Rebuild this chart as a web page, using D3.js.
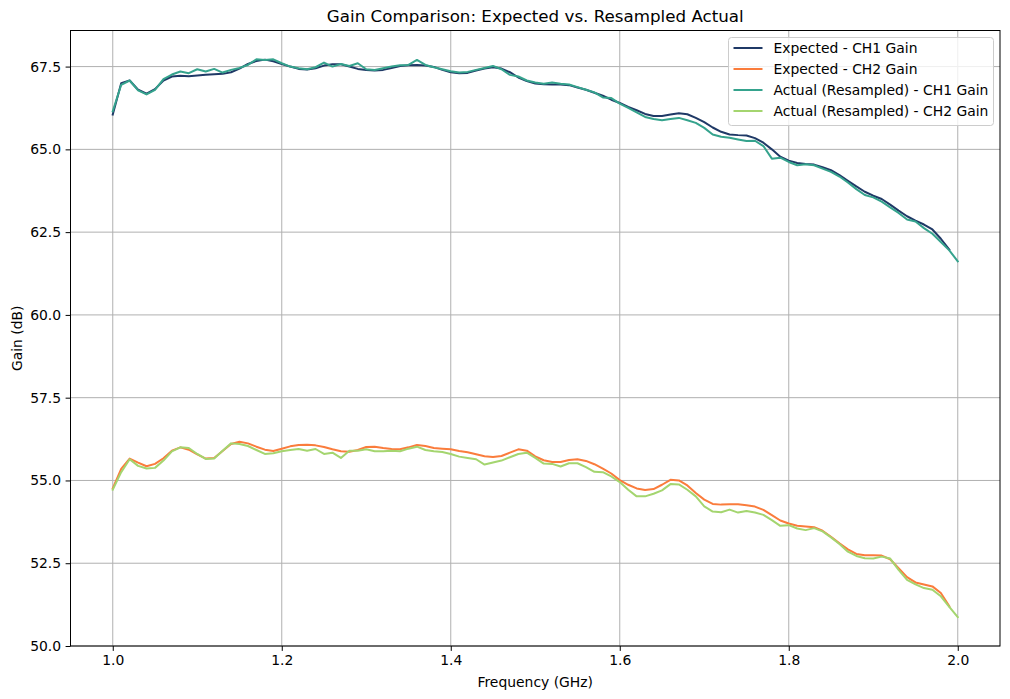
<!DOCTYPE html>
<html>
<head>
<meta charset="utf-8">
<script src="https://cdn.jsdelivr.net/npm/d3@7"></script>
<style>
  body { margin: 0; background: #fff; }
  text { font-family: "DejaVu Sans", sans-serif; fill: #000; }
</style>
</head>
<body>
<script>
// frequency points (GHz), 0.01 step
const freq = d3.range(0, 101).map(i => +(1 + i / 100).toFixed(2));

const expectedCh1 = [
  66.05, 67.00, 67.08, 66.80, 66.68, 66.82, 67.08, 67.20, 67.22, 67.21,
  67.23, 67.25, 67.27, 67.28, 67.33, 67.44, 67.58, 67.67, 67.71, 67.66,
  67.58, 67.50, 67.43, 67.41, 67.45, 67.53, 67.57, 67.57, 67.50, 67.43,
  67.40, 67.38, 67.40, 67.46, 67.52, 67.54, 67.55, 67.53, 67.49, 67.40,
  67.33, 67.30, 67.31, 67.38, 67.44, 67.48, 67.44, 67.33, 67.17, 67.06,
  66.99, 66.97, 66.96, 66.96, 66.94, 66.87, 66.80, 66.71, 66.62, 66.50,
  66.40, 66.28, 66.18, 66.07, 66.01, 66.01, 66.05, 66.09, 66.06, 65.95,
  65.82, 65.66, 65.53, 65.45, 65.43, 65.42, 65.34, 65.20, 65.00, 64.78,
  64.66, 64.59, 64.56, 64.54, 64.46, 64.37, 64.22, 64.05, 63.88, 63.72,
  63.60, 63.50, 63.33, 63.15, 62.98, 62.85, 62.73, 62.58, 62.30, 61.97
];

const expectedCh2 = [
  54.76, 55.35, 55.66, 55.54, 55.43, 55.50, 55.67, 55.90, 56.00, 55.93,
  55.79, 55.66, 55.68, 55.89, 56.10, 56.17, 56.12, 56.02, 55.93, 55.89,
  55.96, 56.03, 56.07, 56.08, 56.06, 56.01, 55.94, 55.88, 55.87, 55.92,
  56.01, 56.02, 55.98, 55.95, 55.94, 56.00, 56.07, 56.04, 55.98, 55.96,
  55.94, 55.89, 55.85, 55.79, 55.73, 55.71, 55.74, 55.84, 55.94, 55.90,
  55.73, 55.61, 55.56, 55.56, 55.62, 55.64, 55.59, 55.49, 55.36, 55.21,
  55.01, 54.87, 54.76, 54.71, 54.74, 54.87, 55.02, 55.00, 54.85, 54.62,
  54.42, 54.29, 54.27, 54.28, 54.28, 54.25, 54.21, 54.11, 53.95, 53.79,
  53.70, 53.63, 53.61, 53.59, 53.48, 53.30, 53.10, 52.92, 52.78, 52.74,
  52.74, 52.73, 52.62, 52.35, 52.08, 51.92, 51.86, 51.80, 51.60, 51.20
];

const actualCh1 = [
  66.15, 66.95, 67.08, 66.78, 66.66, 66.80, 67.12, 67.26, 67.35, 67.30,
  67.42, 67.35, 67.43, 67.32, 67.40, 67.46, 67.55, 67.72, 67.70, 67.72,
  67.60, 67.50, 67.45, 67.42, 67.48, 67.62, 67.50, 67.58, 67.52, 67.60,
  67.42, 67.40, 67.45, 67.50, 67.54, 67.55, 67.70, 67.55, 67.48, 67.42,
  67.36, 67.32, 67.34, 67.40, 67.46, 67.52, 67.42, 67.25, 67.20, 67.08,
  67.02, 66.98, 67.02, 66.98, 66.96, 66.88, 66.80, 66.72, 66.57, 66.55,
  66.38, 66.25, 66.12, 65.98, 65.92, 65.88, 65.92, 65.95, 65.88, 65.80,
  65.65, 65.45, 65.38, 65.35, 65.30, 65.25, 65.26, 65.10, 64.72, 64.75,
  64.62, 64.52, 64.55, 64.52, 64.42, 64.32, 64.18, 64.00, 63.80, 63.62,
  63.55, 63.42, 63.25, 63.08, 62.88, 62.82, 62.62, 62.45, 62.20, 61.95,
  61.62
];

const actualCh2 = [
  54.72, 55.25, 55.64, 55.44, 55.36, 55.38, 55.60, 55.88, 56.00, 55.98,
  55.80, 55.65, 55.66, 55.90, 56.12, 56.10, 56.04, 55.92, 55.80, 55.82,
  55.88, 55.92, 55.95, 55.90, 55.95, 55.80, 55.84, 55.68, 55.90, 55.90,
  55.94, 55.88, 55.88, 55.90, 55.88, 55.96, 56.02, 55.92, 55.88, 55.86,
  55.80, 55.72, 55.68, 55.64, 55.48, 55.54, 55.60, 55.70, 55.80, 55.84,
  55.68, 55.51, 55.50, 55.42, 55.52, 55.52, 55.40, 55.26, 55.25, 55.12,
  54.95, 54.72, 54.52, 54.52, 54.60, 54.70, 54.89, 54.88, 54.72, 54.52,
  54.22, 54.06, 54.04, 54.12, 54.03, 54.08, 54.03, 53.96, 53.80, 53.63,
  53.65, 53.55, 53.50, 53.56, 53.46, 53.28, 53.08, 52.85, 52.72, 52.65,
  52.64, 52.70, 52.64, 52.30, 52.00, 51.86, 51.75, 51.70, 51.50, 51.18,
  50.87
];

const xTicks = [1.0, 1.2, 1.4, 1.6, 1.8, 2.0];
const yTicks = [50.0, 52.5, 55.0, 57.5, 60.0, 62.5, 65.0, 67.5];

const series = [
  { name: "Expected - CH1 Gain", values: expectedCh1, color: "#1f3966" },
  { name: "Expected - CH2 Gain", values: expectedCh2, color: "#fa7c3c" },
  { name: "Actual (Resampled) - CH1 Gain", values: actualCh1, color: "#35a38d" },
  { name: "Actual (Resampled) - CH2 Gain", values: actualCh2, color: "#a4d56f" }
];

const W = 1010, H = 699;
const margin = { top: 30.5, right: 10, bottom: 53, left: 70.5 };
const width = W - margin.left - margin.right;
const height = H - margin.top - margin.bottom;

const svg = d3.select("body").append("svg")
    .attr("width", W)
    .attr("height", H);

const g = svg.append("g")
    .attr("transform", `translate(${margin.left},${margin.top})`);

const x = d3.scaleLinear().domain([0.95, 2.05]).range([0, width]);
const y = d3.scaleLinear().domain([50, 68.59]).range([height, 0]);

// grid
g.append("g")
    .selectAll("line")
    .data(xTicks)
    .join("line")
    .attr("x1", d => x(d)).attr("x2", d => x(d))
    .attr("y1", 0).attr("y2", height)
    .attr("stroke", "#b0b0b0").attr("stroke-width", 1);

g.append("g")
    .selectAll("line")
    .data(yTicks)
    .join("line")
    .attr("y1", d => y(d)).attr("y2", d => y(d))
    .attr("x1", 0).attr("x2", width)
    .attr("stroke", "#b0b0b0").attr("stroke-width", 1);

// lines
const line = d3.line()
    .x((d, i) => x(freq[i]))
    .y(d => y(d));

series.forEach(s => {
    g.append("path")
        .datum(s.values)
        .attr("fill", "none")
        .attr("stroke", s.color)
        .attr("stroke-width", 2)
        .attr("stroke-linejoin", "round")
        .attr("stroke-linecap", "square")
        .attr("d", line);
});

// axes
const xAxis = d3.axisBottom(x)
    .tickValues(xTicks)
    .tickFormat(d3.format(".1f"))
    .tickSize(4.9)
    .tickPadding(4.5);

const yAxis = d3.axisLeft(y)
    .tickValues(yTicks)
    .tickFormat(d3.format(".1f"))
    .tickSize(4.9)
    .tickPadding(4.5);

const gx = g.append("g")
    .attr("transform", `translate(0,${height})`)
    .call(xAxis);

const gy = g.append("g").call(yAxis);

[gx, gy].forEach(a => {
    a.select(".domain").remove();
    a.selectAll("text")
        .style("font-family", "DejaVu Sans, sans-serif")
        .style("font-size", "13.9px")
        .attr("fill", "#000");
    a.selectAll("line").attr("stroke", "#000").attr("stroke-width", 1);
});

// frame
g.append("rect")
    .attr("width", width)
    .attr("height", height)
    .attr("fill", "none")
    .attr("stroke", "#000")
    .attr("stroke-width", 1);

// title and labels
svg.append("text")
    .attr("x", margin.left + width / 2)
    .attr("y", 22)
    .attr("text-anchor", "middle")
    .style("font-size", "16.7px")
    .text("Gain Comparison: Expected vs. Resampled Actual");

svg.append("text")
    .attr("x", margin.left + width / 2)
    .attr("y", 687)
    .attr("text-anchor", "middle")
    .style("font-size", "13.9px")
    .text("Frequency (GHz)");

svg.append("text")
    .attr("transform", `translate(22,${margin.top + height / 2}) rotate(-90)`)
    .attr("text-anchor", "middle")
    .style("font-size", "13.9px")
    .text("Gain (dB)");

// legend
const legend = svg.append("g")
    .attr("transform", "translate(728.5,37.5)");

legend.append("rect")
    .attr("width", 265)
    .attr("height", 88)
    .attr("rx", 3)
    .attr("fill", "#fff")
    .attr("fill-opacity", 0.8)
    .attr("stroke", "#cccccc")
    .attr("stroke-width", 1);

const rows = legend.selectAll("g.row")
    .data(series)
    .join("g")
    .attr("transform", (d, i) => `translate(0,${10.5 + i * 21})`);

rows.append("line")
    .attr("x1", 5).attr("x2", 34)
    .attr("stroke", d => d.color)
    .attr("stroke-width", 2);

rows.append("text")
    .attr("x", 45)
    .attr("y", 5)
    .style("font-size", "13.9px")
    .text(d => d.name);
</script>
</body>
</html>
